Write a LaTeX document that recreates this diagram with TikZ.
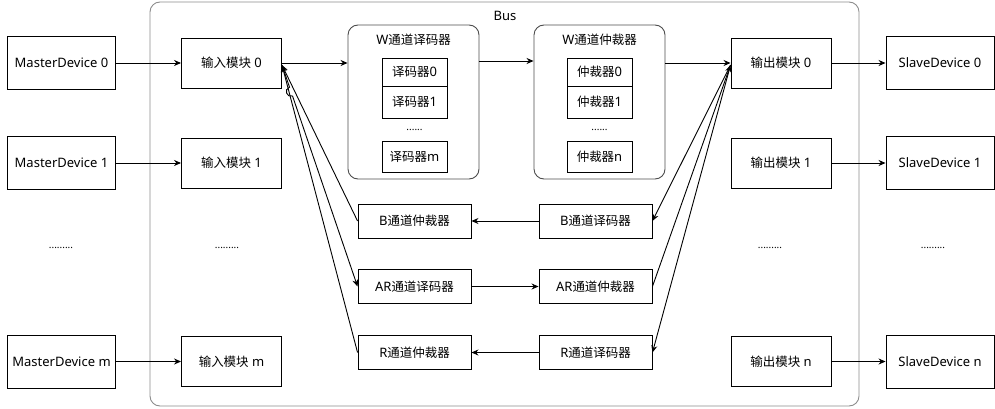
\documentclass[tikz,border=0pt]{standalone}
\usepackage{fontspec}
\setmainfont{Noto Sans}
\newfontfamily\zhfont[Scale=0.96]{Noto Sans CJK SC}
\newcommand\zh[1]{{\zhfont #1}}
\usetikzlibrary{arrows.meta,calc}
\begin{document}
\begin{tikzpicture}[x=1pt,y=-1pt,
  every node/.style={font=\fontsize{13}{15}\selectfont, inner sep=0pt, text=black},
  ln/.style={line width=0.9pt, draw=black},
  dev/.style={ln, draw, minimum width=108pt, minimum height=53pt},
  mod/.style={ln, draw, minimum width=100pt, minimum height=50pt},
  chan/.style={ln, draw, minimum width=113pt, minimum height=34pt},
  unit/.style={ln, draw, minimum width=65pt, minimum height=#1},
  wbox/.style={line width=0.9pt, draw=black!70, rounded corners=10pt, minimum width=131pt, minimum height=154pt},
  dots/.style={font=\fontsize{10}{12}\selectfont},
  arr/.style={ln, -{Stealth[length=7pt,width=6pt]}}]
\useasboundingbox (0,0) rectangle (995,409);

% bus frame
\node[draw=black!45, line width=0.9pt, rounded corners=10pt, minimum width=709pt, minimum height=404pt] (bus) at (504.5,204) {};
\node (buslbl) at (505,16) {Bus};

% masters
\node[dev] (m0) at (61.5,63) {MasterDevice 0};
\node[dev] (m1) at (61.5,163) {MasterDevice 1};
\node[dots] (mdots) at (61,248) {.........};
\node[dev] (mm) at (61.5,361.5) {MasterDevice m};

% input modules
\node[mod] (in0) at (231.5,63) {\zh{输入模块} 0};
\node[mod] (in1) at (231.5,163) {\zh{输入模块} 1};
\node[dots] (indots) at (227,248) {.........};
\node[mod] (inm) at (231.5,361.5) {\zh{输入模块} m};

% W channel decoder
\node[wbox] (wdec) at (413.5,102) {};
\node (wdect) at (413.5,40) {W\zh{通道译码器}};
\node[unit=28pt] (dec0) at (414.5,72) {\zh{译码器}0};
\node[unit=32pt] (dec1) at (414.5,102) {\zh{译码器}1};
\node[dots] (decdots) at (414.5,130) {......};
\node[unit=31pt] (decm) at (414.5,156.5) {\zh{译码器}m};

% W channel arbiter
\node[wbox] (warb) at (599.5,102) {};
\node (warbt) at (599.5,40) {W\zh{通道仲裁器}};
\node[unit=28pt] (arb0) at (599.5,72) {\zh{仲裁器}0};
\node[unit=32pt] (arb1) at (599.5,102) {\zh{仲裁器}1};
\node[dots] (arbdots) at (599.5,130) {......};
\node[unit=31pt] (arbn) at (599.5,156.5) {\zh{仲裁器}n};

% B / AR / R channels
\node[chan] (barb) at (414.5,221) {B\zh{通道仲裁器}};
\node[chan] (bdec) at (595.5,221) {B\zh{通道译码器}};
\node[chan] (ardec) at (414.5,286.5) {AR\zh{通道译码器}};
\node[chan] (ararb) at (595.5,286.5) {AR\zh{通道仲裁器}};
\node[chan] (rarb) at (414.5,352.5) {R\zh{通道仲裁器}};
\node[chan] (rdec) at (595.5,352.5) {R\zh{通道译码器}};

% output modules
\node[mod] (out0) at (781,63) {\zh{输出模块} 0};
\node[mod] (out1) at (781,163) {\zh{输出模块} 1};
\node[dots] (outdots) at (770,248) {.........};
\node[mod] (outn) at (781,361.5) {\zh{输出模块} n};

% slaves
\node[dev] (s0) at (940,63) {SlaveDevice 0};
\node[dev] (s1) at (940,163) {SlaveDevice 1};
\node[dots] (sdots) at (933,248) {.........};
\node[dev] (sn) at (940,361.5) {SlaveDevice n};

% master -> input, output -> slave
\draw[arr] (m0) -- (in0);
\draw[arr] (m1) -- (in1);
\draw[arr] (mm) -- (inm);
\draw[arr] (out0) -- (s0);
\draw[arr] (out1) -- (s1);
\draw[arr] (outn) -- (sn);

% W channel path
\draw[arr] (in0.east) -- (in0.east -| wdec.west);
\draw[arr] ([yshift=41pt]wdec.east) -- ([yshift=41pt]warb.west);
\draw[arr] (warb.east |- out0.west) -- (out0.west);

% input side fan
\coordinate (jstart) at ([yshift=-2pt]in0.east);
\draw[arr] (barb.west) -- (jstart);
\draw[arr] (rarb.west) -- (jstart);
\draw[arr] (jstart) -- ($(jstart)!0.1!(ardec.west)$)
  to[bend right=90, looseness=1.7] ($(jstart)!0.14!(ardec.west)$) -- (ardec.west);

% output side fan
\coordinate (ostart) at ([yshift=-2pt]out0.west);
\draw[arr] (ostart) -- (bdec.east);
\draw[arr] (ararb.east) -- (ostart);
\draw[arr] (ostart) -- (rdec.east);

% channel links
\draw[arr] (bdec) -- (barb);
\draw[arr] (ardec) -- (ararb);
\draw[arr] (rdec) -- (rarb);
\end{tikzpicture}
\end{document}
